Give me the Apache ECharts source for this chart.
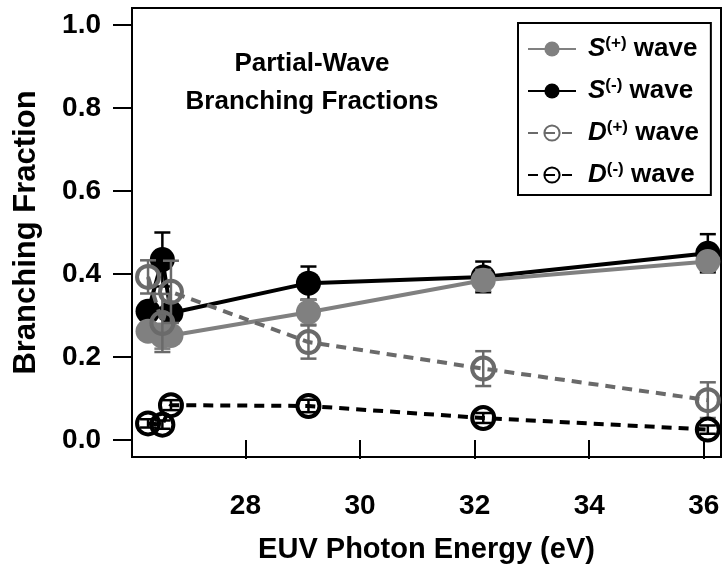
<!DOCTYPE html>
<html>
<head>
<meta charset="utf-8">
<script src="https://cdn.jsdelivr.net/npm/echarts@6/dist/echarts.min.js"></script>
<style>html,body{margin:0;padding:0;background:#fff}#c{width:726px;height:571px}</style>
</head>
<body>
<div id="c"></div>
<script>
// ---- data ----
const energies = [26.3, 26.55, 26.7, 29.1, 32.15, 36.07];
const sPlus    = [0.262, 0.250, 0.252, 0.308, 0.385, 0.430];
const sPlusErr = [0.020, 0.030, 0.020, 0.030, 0.025, 0.020];
const sMinus    = [0.310, 0.435, 0.306, 0.378, 0.393, 0.450];
const sMinusErr = [0.020, 0.065, 0.020, 0.040, 0.037, 0.046];
const dPlus    = [0.393, 0.282, 0.357, 0.236, 0.172, 0.096];
const dPlusErr = [0.040, 0.070, 0.075, 0.040, 0.042, 0.043];
const dMinus    = [0.040, 0.037, 0.084, 0.082, 0.053, 0.025];
const dMinusErr = [0.010, 0.010, 0.012, 0.015, 0.012, 0.010];
const xTicks = [28, 30, 32, 34, 36];
const yTicks = [0, 0.2, 0.4, 0.6, 0.8, 1.0];
const seriesNames = ['S+', 'S-', 'D+', 'D-'];
const legendParts = {'S+': ['S', '(+)'], 'S-': ['S', '(-)'], 'D+': ['D', '(+)'], 'D-': ['D', '(-)']};

const FONT = '"Liberation Sans", Arial, Helvetica, sans-serif';
const GRAY = '#808080', DGRAY = '#6a6a6a', BLACK = '#000000';

function pts(vals) { return energies.map((e, i) => [e, vals[i]]); }
function errPts(vals, errs) { return energies.map((e, i) => [e, vals[i], errs[i]]); }

function errSeries(vals, errs, color, z) {
  return {
    type: 'custom', z: z, silent: true,
    data: errPts(vals, errs),
    encode: { x: 0, y: 1 },
    renderItem: function (params, api) {
      const x = api.value(0), y = api.value(1), e = api.value(2);
      const t = api.coord([x, y + e]), b = api.coord([x, y - e]);
      const hw = 8;
      const st = { stroke: color, lineWidth: 2.5 };
      return { type: 'group', children: [
        { type: 'line', shape: { x1: t[0], y1: t[1], x2: b[0], y2: b[1] }, style: st },
        { type: 'line', shape: { x1: t[0] - hw, y1: t[1], x2: t[0] + hw, y2: t[1] }, style: st },
        { type: 'line', shape: { x1: b[0] - hw, y1: b[1], x2: b[0] + hw, y2: b[1] }, style: st }
      ]};
    }
  };
}

function lineSeries(name, vals, color, filled, dashed, z) {
  return {
    name: name, type: 'line', z: z,
    data: pts(vals),
    symbol: 'circle',
    symbolSize: filled ? 25 : 22,
    showAllSymbol: true,
    lineStyle: { color: color, width: 4, type: dashed ? [10, 7] : 'solid' },
    itemStyle: filled ? { color: color, borderWidth: 0 }
                      : { color: 'rgba(0,0,0,0)', borderColor: color, borderWidth: 4 },
    emphasis: { disabled: true },
    animation: false
  };
}

const chart = echarts.init(document.getElementById('c'), null, { renderer: 'canvas' });
chart.setOption({
  animation: false,
  backgroundColor: '#fff',
  textStyle: { fontFamily: FONT },
  grid: { left: 132, right: 5, top: 8, bottom: 114, show: true, borderColor: '#000', borderWidth: 2, backgroundColor: 'transparent' },
  xAxis: {
    type: 'value', min: 26.02, max: 36.3,
    axisLine: { show: false },
    splitLine: { show: false },
    axisTick: { show: true, inside: false, length: 19, lineStyle: { color: '#000', width: 2 }, customValues: xTicks },
    axisLabel: { customValues: xTicks, color: '#000', fontSize: 28, fontWeight: 'bold', fontFamily: FONT, margin: 35 },
    name: 'EUV Photon Energy (eV)', nameLocation: 'middle', nameGap: 78,
    nameTextStyle: { color: '#000', fontSize: 29, fontWeight: 'bold', fontFamily: FONT }
  },
  yAxis: {
    type: 'value', min: -0.041, max: 1.041,
    axisLine: { show: false },
    splitLine: { show: false },
    axisTick: { show: true, inside: false, length: 19, lineStyle: { color: '#000', width: 2 }, customValues: yTicks },
    axisLabel: { customValues: yTicks, color: '#000', fontSize: 28, fontWeight: 'bold', fontFamily: FONT, margin: 31,
                 formatter: v => v.toFixed(1) },
    name: 'Branching Fraction', nameLocation: 'middle', nameGap: 90,
    nameTextStyle: { color: '#000', fontSize: 31, fontWeight: 'bold', fontFamily: FONT }
  },
  legend: {
    data: seriesNames,
    orient: 'vertical', left: 518, top: 23,
    padding: [12, 12, 7, 9],
    itemGap: 15, itemWidth: 48, itemHeight: 19,
    borderColor: '#000', borderWidth: 2, backgroundColor: '#fff',
    selectedMode: false,
    formatter: n => '{i|' + legendParts[n][0] + '}{s|' + legendParts[n][1] + '}{w| wave}',
    textStyle: {
      color: '#000', fontFamily: FONT, padding: [0, 0, 0, 7],
      rich: {
        i: { fontSize: 26, fontWeight: 'bold', fontStyle: 'italic', fontFamily: FONT, lineHeight: 28, color: '#000' },
        s: { fontSize: 17, fontWeight: 'bold', fontFamily: FONT, lineHeight: 17, verticalAlign: 'top', color: '#000' },
        w: { fontSize: 26, fontWeight: 'bold', fontFamily: FONT, lineHeight: 28, color: '#000' }
      }
    }
  },
  graphic: [{
    type: 'text', x: 312, y: 45, z: 50,
    style: { text: 'Partial-Wave\nBranching Fractions', x: 0, y: 0, textAlign: 'center', textVerticalAlign: 'top',
             font: 'bold 26px ' + FONT, fill: '#000', lineHeight: 38 }
  }],
  series: [
    errSeries(sMinus, sMinusErr, BLACK, 2),
    lineSeries('S-', sMinus, BLACK, true, false, 2),
    errSeries(sPlus, sPlusErr, GRAY, 3),
    lineSeries('S+', sPlus, GRAY, true, false, 3),
    errSeries(dPlus, dPlusErr, DGRAY, 4),
    lineSeries('D+', dPlus, DGRAY, false, true, 4),
    errSeries(dMinus, dMinusErr, BLACK, 5),
    lineSeries('D-', dMinus, BLACK, false, true, 5)
  ]
});
</script>
</body>
</html>
